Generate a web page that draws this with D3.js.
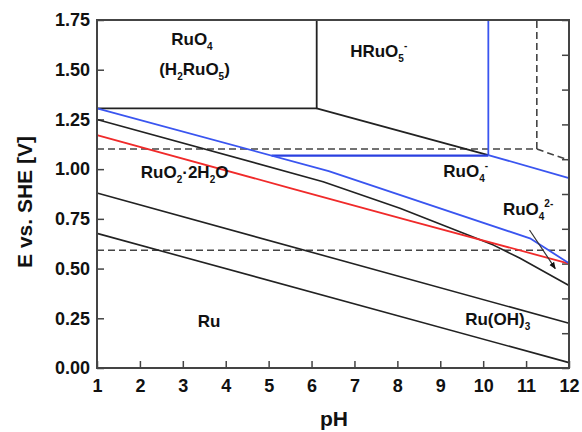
<!DOCTYPE html>
<html><head><meta charset="utf-8">
<script src="https://cdn.jsdelivr.net/npm/d3@7"></script>
<style>
html,body{margin:0;padding:0;background:#fff;}
svg{display:block;}
text{font-family:"Liberation Sans",Arial,Helvetica,sans-serif;font-weight:bold;fill:#111;}
</style></head>
<body>
<script>
// ---- data (pH, E vs SHE) ----
const xTicks = [1,2,3,4,5,6,7,8,9,10,11,12];
const yTicks = [0,0.25,0.5,0.75,1.0,1.25,1.5,1.75];
const yTicksRight = [0,0.175,0.35,0.525,0.7,0.875,1.05,1.225,1.4,1.575,1.75];

const ruo4Boundary = [[1,1.306],[6.12,1.306],[6.12,1.75]];
const hruo5Boundary = [[6.12,1.306],[10.12,1.071]];
const blueVertical = [[10.12,1.75],[10.12,1.071]];
const blueHorizontal = [[5.07,1.068],[10.12,1.068]];
const blueUpperRight = [[10.12,1.071],[12,0.955]];
const blueDiagonal = [[1,1.306],[6.4,0.99],[11.09,0.652],[12,0.527]];
const redLine = [[1,1.171],[5.5,0.905],[8.3,0.740],[12,0.525]];
const blackUpper = [[1,1.25],[6.27,0.937],[8.06,0.803],[10.24,0.618],[10.86,0.552],[12,0.415]];
const blackMiddle = [[1,0.88],[12,0.225]];
const blackLower = [[1,0.677],[12,0.027]];
const dashUpper = [[1,1.101],[11.25,1.101],[11.25,1.75]];
const dashCorner = [[11.25,1.101],[12,1.045]];
const dashLower = [[1,0.592],[12,0.592]];
const arrowLine = [[11.08,0.694],[11.68,0.50]];

// labels: [pH, E, parts]   parts: [text, kind] kind: n normal, sub, sup
const labels = [
  {x:2.73, y:1.625, parts:[["RuO","n"],["4","sub"]]},
  {x:2.45, y:1.475, parts:[["(H","n"],["2","sub"],["RuO","n"],["5","sub"],[")","n"]]},
  {x:6.9, y:1.566, parts:[["HRuO","n"],["5","sub"],["-","sup"]]},
  {x:2.02, y:0.953, parts:[["RuO","n"],["2","sub"],["·2H","n"],["2","sub"],["O","n"]]},
  {x:9.07, y:0.958, parts:[["RuO","n"],["4","sub"],["-","sup"]]},
  {x:10.46, y:0.768, parts:[["RuO","n"],["4","sub"],["2-","sup"]]},
  {x:3.35, y:0.206, parts:[["Ru","n"]]},
  {x:9.58, y:0.216, parts:[["Ru(OH)","n"],["3","sub"]]}
];

// ---- chart ----
const W = 582, H = 432;
const m = {l:97, r:13, t:20, b:64};
const svg = d3.select("body").append("svg").attr("width",W).attr("height",H);

const x = d3.scaleLinear().domain([1,12]).range([m.l, W-m.r]);
const y = d3.scaleLinear().domain([0,1.75]).range([H-m.b, m.t]);
const line = d3.line().x(d=>x(d[0])).y(d=>y(d[1]));

const frameColor = "#444";

// axes
const gx = svg.append("g").attr("transform",`translate(0,${H-m.b})`)
  .call(d3.axisBottom(x).tickValues(xTicks).tickFormat(d3.format("d")).tickSizeInner(-7).tickSizeOuter(0).tickPadding(11));
const gy = svg.append("g").attr("transform",`translate(${m.l},0)`)
  .call(d3.axisLeft(y).tickValues(yTicks).tickFormat(d3.format(".2f")).tickSizeInner(-7).tickSizeOuter(0).tickPadding(7));
const gr = svg.append("g").attr("transform",`translate(${W-m.r},0)`)
  .call(d3.axisRight(y).tickValues(yTicksRight).tickFormat("").tickSizeInner(-7).tickSizeOuter(0));
[gx,gy,gr].forEach(g=>{
  g.select(".domain").remove();
  g.selectAll(".tick line").attr("stroke",frameColor).attr("stroke-width",1.5);
  g.selectAll("text").attr("font-size",18).attr("font-family","Liberation Sans, Arial, sans-serif").attr("font-weight","bold").attr("fill","#111");
});

// data lines
const plot = svg.append("g");
function draw(data, color, width, dash){
  const p = plot.append("path").datum(data).attr("d",line).attr("fill","none")
    .attr("stroke",color).attr("stroke-width",width).attr("stroke-linejoin","round");
  if(dash) p.attr("stroke-dasharray",dash);
  return p;
}
const BLK = "#222", BLUE = "#3a55f0", RED = "#f02a2a";
draw(dashUpper, "#444", 1.6, "7,4");
draw(dashCorner, "#444", 1.6, "7,4");
draw(dashLower, "#444", 1.6, "7,4");
draw(ruo4Boundary, BLK, 1.8);
draw(hruo5Boundary, BLK, 1.8);
draw(blackUpper, BLK, 1.6);
draw(blackMiddle, BLK, 1.6);
draw(blackLower, BLK, 1.6);
draw(redLine, RED, 1.8);
draw(blueVertical, BLUE, 1.8);
draw(blueHorizontal, "#2a40e0", 2.2);
draw(blueUpperRight, BLUE, 1.8);
draw(blueDiagonal, BLUE, 1.8);

// arrow
svg.append("defs").append("marker").attr("id","ah").attr("viewBox","0 0 10 10")
  .attr("refX",9).attr("refY",5).attr("markerWidth",7).attr("markerHeight",7)
  .attr("markerUnits","userSpaceOnUse").attr("orient","auto")
  .append("path").attr("d","M0,1 L10,5 L0,9 Z").attr("fill","#111");
draw(arrowLine, "#333", 1.2).attr("marker-end","url(#ah)");

// frame
svg.append("rect").attr("x",m.l).attr("y",m.t).attr("width",W-m.l-m.r).attr("height",H-m.t-m.b)
  .attr("fill","none").attr("stroke",frameColor).attr("stroke-width",2);

// region labels
labels.forEach(L=>{
  const t = svg.append("text").attr("x",x(L.x)).attr("y",y(L.y)).attr("font-size",17);
  let shift = 0;
  L.parts.forEach(([s,k])=>{
    const sp = t.append("tspan").text(s);
    let target = k==="sub" ? 5 : (k==="sup" ? -8 : 0);
    sp.attr("dy", target - shift);
    shift = target;
    if(k!=="n") sp.attr("font-size",10);
  });
});

// axis titles
svg.append("text").attr("x",(m.l+W-m.r)/2+1).attr("y",426).attr("text-anchor","middle")
  .attr("font-size",21).text("pH");
svg.append("text").attr("transform",`translate(32,${202}) rotate(-90)`).attr("text-anchor","middle")
  .attr("font-size",21).text("E vs. SHE [V]");
</script>
</body></html>
